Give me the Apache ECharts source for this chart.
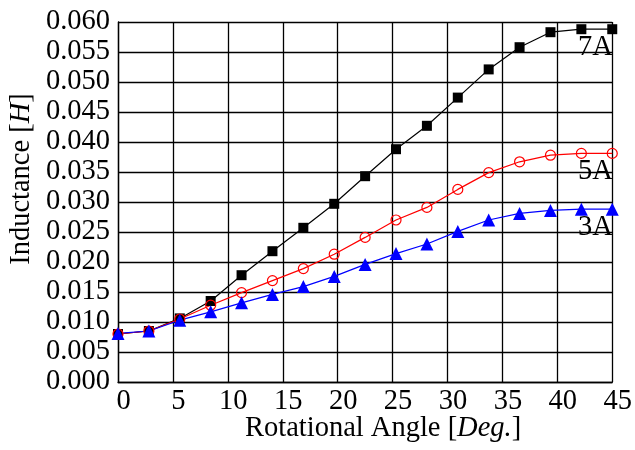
<!DOCTYPE html>
<html>
<head>
<meta charset="utf-8">
<script src="https://cdn.jsdelivr.net/npm/echarts@6/dist/echarts.min.js"></script>
<style>html,body{margin:0;padding:0;background:#fff}#c{width:635px;height:450px}</style>
</head>
<body>
<div id="c"></div>
<script>
const angles = [0, 2.8125, 5.625, 8.4375, 11.25, 14.0625, 16.875, 19.6875, 22.5, 25.3125, 28.125, 30.9375, 33.75, 36.5625, 39.375, 42.1875, 45];
const ind7A = [0.0080, 0.0085, 0.0106, 0.0135, 0.0178, 0.0218, 0.0257, 0.0297, 0.0343, 0.0388, 0.0427, 0.0474, 0.0521, 0.0558, 0.0583, 0.0588, 0.0588];
const ind5A = [0.0080, 0.0085, 0.0105, 0.0128, 0.0149, 0.0169, 0.0189, 0.0213, 0.0241, 0.0270, 0.0291, 0.0321, 0.0349, 0.0367, 0.0378, 0.0381, 0.0381];
const ind3A = [0.0081, 0.0085, 0.0103, 0.0117, 0.0132, 0.0146, 0.0159, 0.0176, 0.0196, 0.0214, 0.0230, 0.0251, 0.0270, 0.0281, 0.0286, 0.0288, 0.0288];
const seriesNames = ['7A', '5A', '3A'];

const FONT = 'Liberation Serif';
const FS = 28.5;
const pairs = arr => angles.map((a, i) => [a, arr[i]]);

function endMark(name, arr) {
  return {
    symbol: 'rect', symbolSize: [1, 1], silent: true,
    itemStyle: { color: 'rgba(0,0,0,0)' },
    label: { show: true, formatter: name, position: 'left', distance: 0, offset: [1, 18],
      color: '#000', fontFamily: FONT, fontSize: FS },
    data: [{ coord: [angles[angles.length - 1], arr[arr.length - 1]] }]
  };
}

const chart = echarts.init(document.getElementById('c'), null, { renderer: 'canvas' });
chart.setOption({
  backgroundColor: '#fff',
  animation: false,
  grid: { left: 118, right: 17, top: 22, bottom: 68, containLabel: false },
  xAxis: {
    type: 'value', min: 0, max: 45, interval: 5,
    axisLine: { show: true, lineStyle: { color: '#000', width: 1.3 } },
    axisTick: { show: false },
    splitLine: { show: true, lineStyle: { color: '#000', width: 1.3 } },
    axisLabel: { color: '#000', fontFamily: FONT, fontSize: FS, margin: 5, padding: [0, 0, 0, 11] }
  },
  yAxis: {
    type: 'value', min: 0, max: 0.06, interval: 0.005,
    axisLine: { show: true, lineStyle: { color: '#000', width: 1.3 } },
    axisTick: { show: false },
    splitLine: { show: true, lineStyle: { color: '#000', width: 1.3 } },
    axisLabel: { color: '#000', fontFamily: FONT, fontSize: FS, margin: 8,
      formatter: v => v.toFixed(3) }
  },
  graphic: [
    { type: 'text', left: 245, top: 414,
      style: { text: 'Rotational Angle [{i|Deg.}]', fontFamily: FONT, fontSize: FS, fill: '#000',
        rich: { i: { fontStyle: 'italic', fontFamily: FONT, fontSize: FS } } } },
    { type: 'text', x: 22, y: 179, rotation: Math.PI / 2,
      style: { text: 'Inductance [{i|H}]', fontFamily: FONT, fontSize: FS, fill: '#000',
        align: 'center', verticalAlign: 'middle',
        rich: { i: { fontStyle: 'italic', fontFamily: FONT, fontSize: FS } } } }
  ],
  series: [
    { name: seriesNames[0], type: 'line', data: pairs(ind7A), symbol: 'rect', symbolSize: 10,
      itemStyle: { color: '#000' }, lineStyle: { color: '#000', width: 1.2 },
      markPoint: endMark(seriesNames[0], ind7A) },
    { name: seriesNames[1], type: 'line', data: pairs(ind5A), symbol: 'circle', symbolSize: 10,
      itemStyle: { color: 'rgba(0,0,0,0)', borderColor: '#ff0000', borderWidth: 1.2 },
      lineStyle: { color: '#ff0000', width: 1.2 },
      markPoint: endMark(seriesNames[1], ind5A) },
    { name: seriesNames[2], type: 'line', data: pairs(ind3A), symbol: 'triangle', symbolSize: 13,
      itemStyle: { color: '#0000ff' }, lineStyle: { color: '#0000ff', width: 1.2 },
      markPoint: endMark(seriesNames[2], ind3A) }
  ]
});
</script>
</body>
</html>
